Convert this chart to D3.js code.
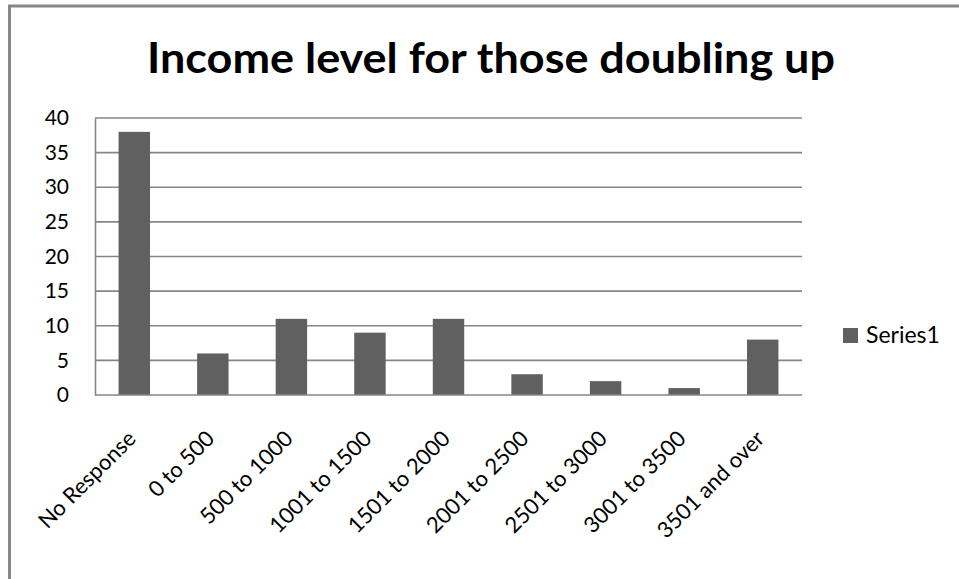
<!DOCTYPE html>
<html>
<head>
<meta charset="utf-8">
<script src="https://cdn.jsdelivr.net/npm/d3@7"></script>
<style>
  html, body { margin: 0; padding: 0; background: #fff; }
  svg { display: block; }
  text { font-family: Lato, "Open Sans", sans-serif; fill: #000; }
</style>
</head>
<body>
<svg id="chart" width="959" height="579"></svg>
<script>
// Income brackets and respondent counts
const categories = ["No Response", "0 to 500", "500 to 1000", "1001 to 1500", "1501 to 2000",
                    "2001 to 2500", "2501 to 3000", "3001 to 3500", "3501 and over"];
const series1 = [38, 6, 11, 9, 11, 3, 2, 1, 8];
const yTicks = [0, 5, 10, 15, 20, 25, 30, 35, 40];
const titleText = "Income level for those doubling up";
const seriesName = "Series1";

const svg = d3.select("#chart");
const W = 959, H = 579;
const plot = { left: 95, right: 802, top: 118, bottom: 395 };
const barColor = "#606060";
const gridColor = "#868686";

// Outer chart frame (only left and top edges fall inside the window)
svg.append("path")
  .attr("d", `M9.5,${H} V6 H${W}`)
  .attr("fill", "none")
  .attr("stroke", "#888")
  .attr("stroke-width", 3);

// Title
svg.append("text")
  .attr("x", 147).attr("y", 73)
  .attr("font-size", 42).attr("font-weight", 700)
  .attr("textLength", 688).attr("lengthAdjust", "spacingAndGlyphs")
  .text(titleText);

const x = d3.scaleBand().domain(categories).range([plot.left, plot.right]).paddingInner(0.6).paddingOuter(0.3);
const y = d3.scaleLinear().domain([0, 40]).range([plot.bottom, plot.top]);

// Horizontal gridlines
svg.append("g")
  .selectAll("line")
  .data(yTicks.filter(d => d > 0))
  .join("line")
  .attr("x1", plot.left).attr("x2", plot.right)
  .attr("y1", d => y(d)).attr("y2", d => y(d))
  .attr("stroke", gridColor).attr("stroke-width", 1.6);

// Bars
svg.append("g")
  .selectAll("rect")
  .data(series1)
  .join("rect")
  .attr("x", (d, i) => x(categories[i]))
  .attr("width", x.bandwidth())
  .attr("y", d => y(d))
  .attr("height", d => y(0) - y(d))
  .attr("fill", barColor);

// Y axis
const yAxis = svg.append("g")
  .attr("transform", `translate(${plot.left},0)`)
  .call(d3.axisLeft(y).tickValues(yTicks).tickSize(0).tickPadding(26));
yAxis.select(".domain").attr("stroke", gridColor).attr("stroke-width", 1.6);
yAxis.selectAll("text").attr("font-size", 21).attr("font-family", "Lato, sans-serif").attr("fill", "#000");

// X axis with rotated labels
const xAxis = svg.append("g")
  .attr("transform", `translate(0,${plot.bottom})`)
  .call(d3.axisBottom(x).tickSize(0).tickPadding(0));
xAxis.select(".domain").attr("d", `M${plot.left},0H${plot.right}`)
  .attr("stroke", gridColor).attr("stroke-width", 1.6);
xAxis.selectAll("text")
  .attr("font-size", 22).attr("font-family", "Lato, sans-serif").attr("fill", "#000")
  .attr("text-anchor", "end")
  .attr("dy", 0)
  .attr("transform", "translate(3,45) rotate(-45)");

// Legend
const legend = svg.append("g").attr("transform", "translate(843,328)");
legend.append("rect").attr("width", 15).attr("height", 15).attr("fill", barColor);
legend.append("text").attr("x", 23).attr("y", 15).attr("font-size", 23).text(seriesName);
</script>
</body>
</html>
